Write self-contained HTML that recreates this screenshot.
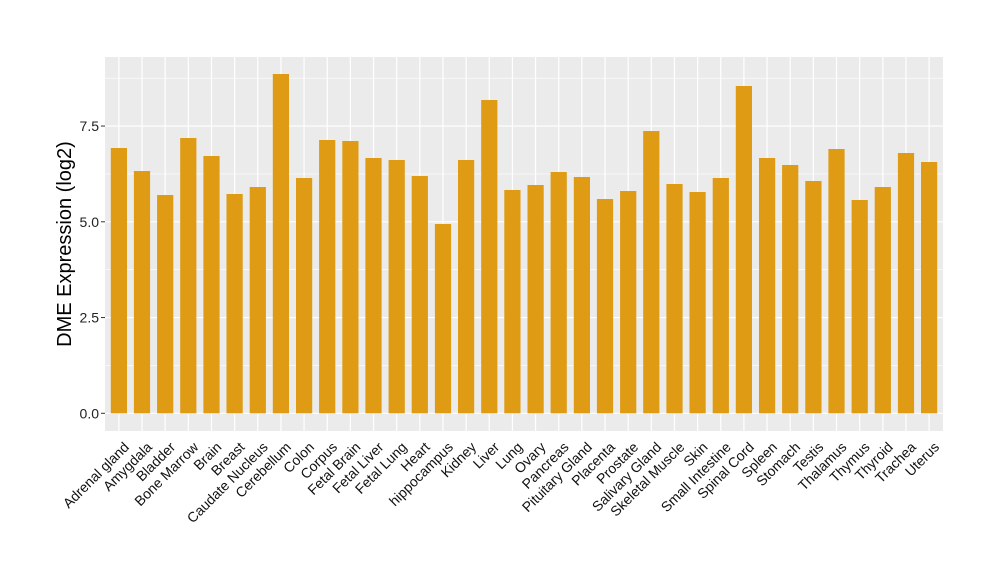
<!DOCTYPE html>
<html><head><style>body{margin:0;background:#fff}</style></head><body>
<svg width="1000" height="580" xmlns="http://www.w3.org/2000/svg" font-family="Liberation Sans, sans-serif">
<rect x="105" y="57" width="838" height="374" fill="#EBEBEB"/>
<g stroke="#fff" stroke-width="0.6">
<line x1="105" x2="943" y1="365.4" y2="365.4"/><line x1="105" x2="943" y1="269.7" y2="269.7"/><line x1="105" x2="943" y1="173.9" y2="173.9"/><line x1="105" x2="943" y1="78.2" y2="78.2"/>
</g>
<g stroke="#fff" stroke-width="1.2">
<line x1="105" x2="943" y1="413.3" y2="413.3"/><line x1="105" x2="943" y1="317.55" y2="317.55"/><line x1="105" x2="943" y1="221.8" y2="221.8"/><line x1="105" x2="943" y1="126.05" y2="126.05"/>
<line x1="118.89" x2="118.89" y1="57" y2="431"/><line x1="142.04" x2="142.04" y1="57" y2="431"/><line x1="165.19" x2="165.19" y1="57" y2="431"/><line x1="188.34" x2="188.34" y1="57" y2="431"/><line x1="211.49" x2="211.49" y1="57" y2="431"/><line x1="234.64" x2="234.64" y1="57" y2="431"/><line x1="257.78" x2="257.78" y1="57" y2="431"/><line x1="280.93" x2="280.93" y1="57" y2="431"/><line x1="304.08" x2="304.08" y1="57" y2="431"/><line x1="327.23" x2="327.23" y1="57" y2="431"/><line x1="350.38" x2="350.38" y1="57" y2="431"/><line x1="373.53" x2="373.53" y1="57" y2="431"/><line x1="396.68" x2="396.68" y1="57" y2="431"/><line x1="419.83" x2="419.83" y1="57" y2="431"/><line x1="442.98" x2="442.98" y1="57" y2="431"/><line x1="466.13" x2="466.13" y1="57" y2="431"/><line x1="489.27" x2="489.27" y1="57" y2="431"/><line x1="512.42" x2="512.42" y1="57" y2="431"/><line x1="535.57" x2="535.57" y1="57" y2="431"/><line x1="558.72" x2="558.72" y1="57" y2="431"/><line x1="581.87" x2="581.87" y1="57" y2="431"/><line x1="605.02" x2="605.02" y1="57" y2="431"/><line x1="628.17" x2="628.17" y1="57" y2="431"/><line x1="651.32" x2="651.32" y1="57" y2="431"/><line x1="674.47" x2="674.47" y1="57" y2="431"/><line x1="697.62" x2="697.62" y1="57" y2="431"/><line x1="720.76" x2="720.76" y1="57" y2="431"/><line x1="743.91" x2="743.91" y1="57" y2="431"/><line x1="767.06" x2="767.06" y1="57" y2="431"/><line x1="790.21" x2="790.21" y1="57" y2="431"/><line x1="813.36" x2="813.36" y1="57" y2="431"/><line x1="836.51" x2="836.51" y1="57" y2="431"/><line x1="859.66" x2="859.66" y1="57" y2="431"/><line x1="882.81" x2="882.81" y1="57" y2="431"/><line x1="905.96" x2="905.96" y1="57" y2="431"/><line x1="929.11" x2="929.11" y1="57" y2="431"/>
</g>
<g fill="#DE9B13">
<rect x="110.8" y="148" width="16.2" height="265.3"/>
<rect x="133.9" y="171" width="16.2" height="242.3"/>
<rect x="157.1" y="195" width="16.2" height="218.3"/>
<rect x="180.2" y="138" width="16.2" height="275.3"/>
<rect x="203.4" y="156" width="16.2" height="257.3"/>
<rect x="226.5" y="194" width="16.2" height="219.3"/>
<rect x="249.7" y="187" width="16.2" height="226.3"/>
<rect x="272.8" y="74" width="16.2" height="339.3"/>
<rect x="296.0" y="178" width="16.2" height="235.3"/>
<rect x="319.1" y="140" width="16.2" height="273.3"/>
<rect x="342.3" y="141" width="16.2" height="272.3"/>
<rect x="365.4" y="158" width="16.2" height="255.3"/>
<rect x="388.6" y="160" width="16.2" height="253.3"/>
<rect x="411.7" y="176" width="16.2" height="237.3"/>
<rect x="434.9" y="224" width="16.2" height="189.3"/>
<rect x="458.0" y="160" width="16.2" height="253.3"/>
<rect x="481.2" y="100" width="16.2" height="313.3"/>
<rect x="504.3" y="190" width="16.2" height="223.3"/>
<rect x="527.5" y="185" width="16.2" height="228.3"/>
<rect x="550.6" y="172" width="16.2" height="241.3"/>
<rect x="573.8" y="177" width="16.2" height="236.3"/>
<rect x="596.9" y="199" width="16.2" height="214.3"/>
<rect x="620.1" y="191" width="16.2" height="222.3"/>
<rect x="643.2" y="131" width="16.2" height="282.3"/>
<rect x="666.4" y="184" width="16.2" height="229.3"/>
<rect x="689.5" y="192" width="16.2" height="221.3"/>
<rect x="712.7" y="178" width="16.2" height="235.3"/>
<rect x="735.8" y="86" width="16.2" height="327.3"/>
<rect x="759.0" y="158" width="16.2" height="255.3"/>
<rect x="782.1" y="165" width="16.2" height="248.3"/>
<rect x="805.3" y="181" width="16.2" height="232.3"/>
<rect x="828.4" y="149" width="16.2" height="264.3"/>
<rect x="851.6" y="200" width="16.2" height="213.3"/>
<rect x="874.7" y="187" width="16.2" height="226.3"/>
<rect x="897.9" y="153" width="16.2" height="260.3"/>
<rect x="921.0" y="162" width="16.2" height="251.3"/>
</g>
<g stroke="#333" stroke-width="1">
<line x1="101" x2="105" y1="413.3" y2="413.3"/><line x1="101" x2="105" y1="317.55" y2="317.55"/><line x1="101" x2="105" y1="221.8" y2="221.8"/><line x1="101" x2="105" y1="126.05" y2="126.05"/>
</g>
<g font-size="14" fill="#222" text-anchor="end">
<text x="99" y="418.3">0.0</text><text x="99" y="322.5">2.5</text><text x="99" y="226.8">5.0</text><text x="99" y="131">7.5</text>
</g>
<g font-size="14" fill="#111" text-anchor="end">
<text transform="translate(122.9,441) rotate(-45)" dy="0.7em">Adrenal gland</text>
<text transform="translate(146.0,441) rotate(-45)" dy="0.7em">Amygdala</text>
<text transform="translate(169.2,441) rotate(-45)" dy="0.7em">Bladder</text>
<text transform="translate(192.3,441) rotate(-45)" dy="0.7em">Bone Marrow</text>
<text transform="translate(215.5,441) rotate(-45)" dy="0.7em">Brain</text>
<text transform="translate(238.6,441) rotate(-45)" dy="0.7em">Breast</text>
<text transform="translate(261.8,441) rotate(-45)" dy="0.7em">Caudate Nucleus</text>
<text transform="translate(284.9,441) rotate(-45)" dy="0.7em">Cerebellum</text>
<text transform="translate(308.1,441) rotate(-45)" dy="0.7em">Colon</text>
<text transform="translate(331.2,441) rotate(-45)" dy="0.7em">Corpus</text>
<text transform="translate(354.4,441) rotate(-45)" dy="0.7em">Fetal Brain</text>
<text transform="translate(377.5,441) rotate(-45)" dy="0.7em">Fetal Liver</text>
<text transform="translate(400.7,441) rotate(-45)" dy="0.7em">Fetal Lung</text>
<text transform="translate(423.8,441) rotate(-45)" dy="0.7em">Heart</text>
<text transform="translate(447.0,441) rotate(-45)" dy="0.7em">hippocampus</text>
<text transform="translate(470.1,441) rotate(-45)" dy="0.7em">Kidney</text>
<text transform="translate(493.3,441) rotate(-45)" dy="0.7em">Liver</text>
<text transform="translate(516.4,441) rotate(-45)" dy="0.7em">Lung</text>
<text transform="translate(539.6,441) rotate(-45)" dy="0.7em">Ovary</text>
<text transform="translate(562.7,441) rotate(-45)" dy="0.7em">Pancreas</text>
<text transform="translate(585.9,441) rotate(-45)" dy="0.7em">Pituitary Gland</text>
<text transform="translate(609.0,441) rotate(-45)" dy="0.7em">Placenta</text>
<text transform="translate(632.2,441) rotate(-45)" dy="0.7em">Prostate</text>
<text transform="translate(655.3,441) rotate(-45)" dy="0.7em">Salivary Gland</text>
<text transform="translate(678.5,441) rotate(-45)" dy="0.7em">Skeletal Muscle</text>
<text transform="translate(701.6,441) rotate(-45)" dy="0.7em">Skin</text>
<text transform="translate(724.8,441) rotate(-45)" dy="0.7em">Small Intestine</text>
<text transform="translate(747.9,441) rotate(-45)" dy="0.7em">Spinal Cord</text>
<text transform="translate(771.1,441) rotate(-45)" dy="0.7em">Spleen</text>
<text transform="translate(794.2,441) rotate(-45)" dy="0.7em">Stomach</text>
<text transform="translate(817.4,441) rotate(-45)" dy="0.7em">Testis</text>
<text transform="translate(840.5,441) rotate(-45)" dy="0.7em">Thalamus</text>
<text transform="translate(863.7,441) rotate(-45)" dy="0.7em">Thymus</text>
<text transform="translate(886.8,441) rotate(-45)" dy="0.7em">Thyroid</text>
<text transform="translate(910.0,441) rotate(-45)" dy="0.7em">Trachea</text>
<text transform="translate(933.1,441) rotate(-45)" dy="0.7em">Uterus</text>
</g>
<text transform="translate(71,244) rotate(-90)" text-anchor="middle" font-size="20" fill="#000">DME Expression (log2)</text>
</svg>
</body></html>
